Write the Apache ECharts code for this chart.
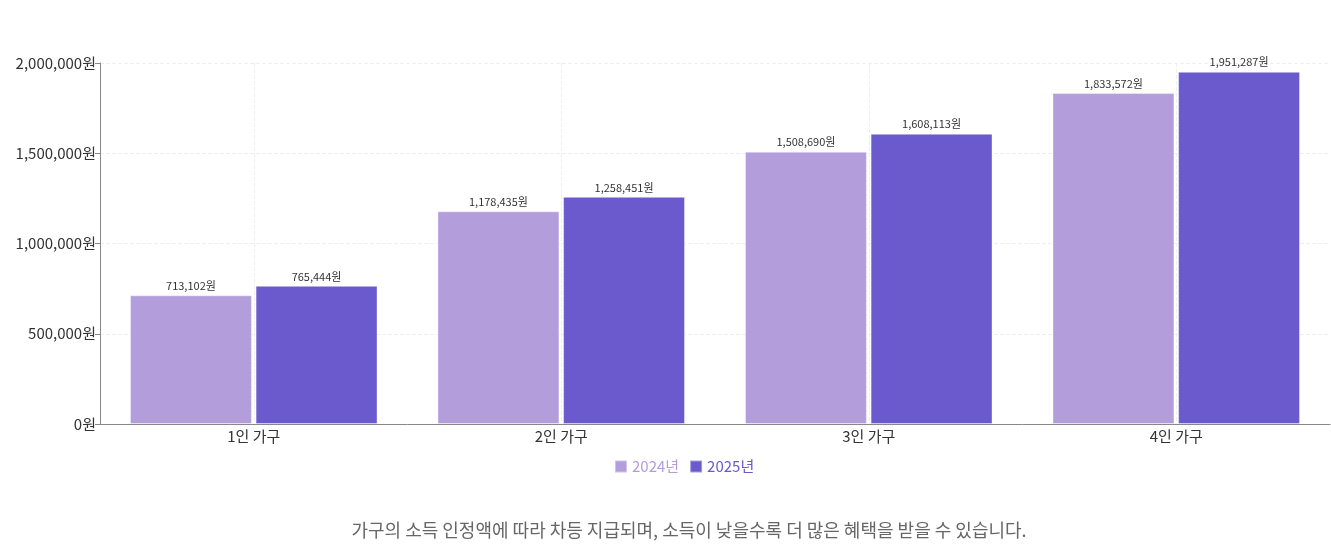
<!DOCTYPE html>
<html>
<head>
<meta charset="utf-8">
<script src="https://cdn.jsdelivr.net/npm/echarts@6/dist/echarts.min.js"></script>
<style>
  html, body { margin: 0; padding: 0; background: #fff; }
  #chart { width: 1331px; height: 560px; }
</style>
</head>
<body>
<div id="chart"></div>
<script>
// 가구원 수별 지급액
const categories = ["1인 가구", "2인 가구", "3인 가구", "4인 가구"];
const values2024 = [713102, 1178435, 1508690, 1833572];
const values2025 = [765444, 1258451, 1608113, 1951287];
const seriesNames = ["2024년", "2025년"];
const yTicks = [0, 500000, 1000000, 1500000, 2000000];
const caption = "가구의 소득 인정액에 따라 차등 지급되며, 소득이 낮을수록 더 많은 혜택을 받을 수 있습니다.";

const fontFamily = "'Noto Sans CJK KR', 'Noto Sans', sans-serif";
const won = v => v.toLocaleString("en-US") + "원";

const barLabel = {
    show: true,
    position: "top",
    distance: 4,
    fontSize: 11,
    color: "#333",
    fontFamily: fontFamily,
    formatter: p => won(p.value)
};

const option = {
    textStyle: { fontFamily: fontFamily },
    grid: { left: 100, right: 1, top: 63, bottom: 136 },
    legend: {
        data: seriesNames,
        left: 609,
        top: 454,
        itemWidth: 12,
        itemHeight: 12,
        itemGap: 10,
        icon: "rect",
        textStyle: { color: "inherit", fontSize: 15, fontFamily: fontFamily }
    },
    graphic: [{
        type: "text",
        x: 689,
        y: 530,
        style: {
            text: caption,
            fontSize: 18,
            fill: "#666",
            fontFamily: fontFamily,
            align: "center",
            verticalAlign: "middle"
        }
    }],
    xAxis: {
        type: "category",
        data: categories,
        axisLine: { lineStyle: { color: "#888" } },
        axisTick: { alignWithLabel: true, lineStyle: { color: "#888" } },
        axisLabel: { fontSize: 15, color: "#333", margin: 5 },
        splitLine: { show: true, alignWithLabel: true, lineStyle: { type: "dashed", color: "#eee" } }
    },
    yAxis: {
        type: "value",
        min: yTicks[0],
        max: yTicks[yTicks.length - 1],
        interval: 500000,
        axisLine: { show: true, lineStyle: { color: "#888" } },
        axisTick: { show: true, length: 5, lineStyle: { color: "#888" } },
        axisLabel: { fontSize: 15, color: "#333", margin: 4, formatter: v => won(v) },
        splitLine: { lineStyle: { type: "dashed", color: "#eee" } }
    },
    series: [
        {
            name: seriesNames[0],
            type: "bar",
            data: values2024,
            barCategoryGap: "19.5%",
            barGap: "3%",
            itemStyle: { color: "#b39ddb", borderColor: "rgba(255,255,255,0.4)", borderWidth: 1 },
            label: barLabel
        },
        {
            name: seriesNames[1],
            type: "bar",
            data: values2025,
            barCategoryGap: "19.5%",
            barGap: "3%",
            itemStyle: { color: "#6a5acd", borderColor: "rgba(255,255,255,0.4)", borderWidth: 1 },
            label: barLabel
        }
    ]
};

const chart = echarts.init(document.getElementById("chart"));
chart.setOption(option);
</script>
</body>
</html>
